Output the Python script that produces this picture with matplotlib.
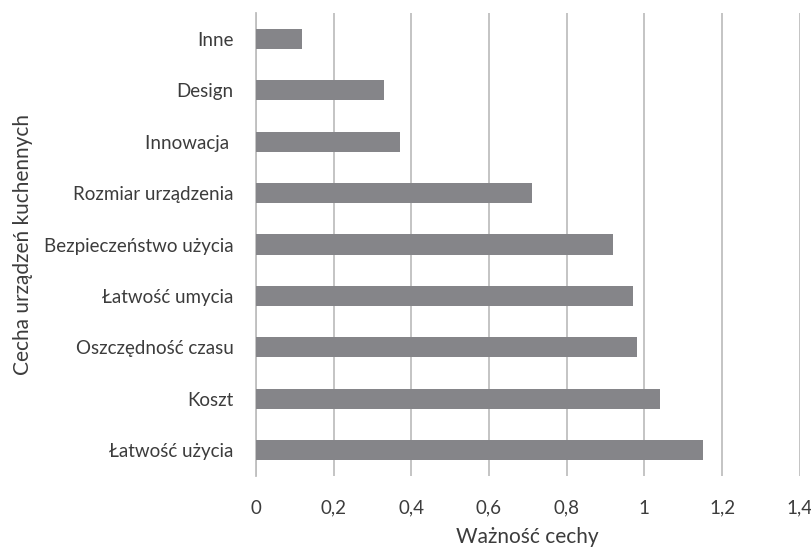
import matplotlib.pyplot as plt
from matplotlib.ticker import FuncFormatter, MultipleLocator

plt.rcParams['font.family'] = ['Lato', 'DejaVu Sans']

cechy = ["Łatwość użycia", "Koszt", "Oszczędność czasu", "Łatwość umycia",
         "Bezpieczeństwo użycia", "Rozmiar urządzenia", "Innowacja ", "Design", "Inne"]
waznosc = [1.15, 1.04, 0.98, 0.97, 0.92, 0.71, 0.37, 0.33, 0.12]

txt = "#3c3c3c"
grid = "#bfbfbf"

fig = plt.figure(figsize=(8.12, 5.47), dpi=100)
ax = fig.add_axes([0.315, 0.13, 0.67, 0.846])

ax.barh(range(len(cechy)), waznosc, height=0.39, color="#858589", zorder=3)

ax.set_xlim(0, 1.4)
ax.set_ylim(-0.5, len(cechy) - 0.5)
ax.xaxis.set_major_locator(MultipleLocator(0.2))
ax.xaxis.set_major_formatter(FuncFormatter(lambda v, p: f"{v:.1f}".replace(".", ",").replace(",0", "")))
ax.set_yticks(range(len(cechy)))
ax.set_yticklabels(cechy)

ax.grid(axis="x", color=grid, linewidth=1.3, zorder=0)
for s in ["top", "right", "bottom"]:
    ax.spines[s].set_visible(False)
ax.spines["left"].set_color(grid)
ax.spines["left"].set_linewidth(1.3)
ax.tick_params(axis="both", length=0, labelsize=13.5, labelcolor=txt)
ax.tick_params(axis="x", pad=17)
ax.tick_params(axis="y", pad=16)

# x axis title placed directly under the tick labels
fig.text(0.65, 0.018, "Ważność cechy", fontsize=15, color=txt, ha="center", va="center")
ax.set_ylabel("Cecha urządzeń kuchennych", fontsize=15, color=txt, labelpad=8)

fig.savefig("out.png", dpi=100)
